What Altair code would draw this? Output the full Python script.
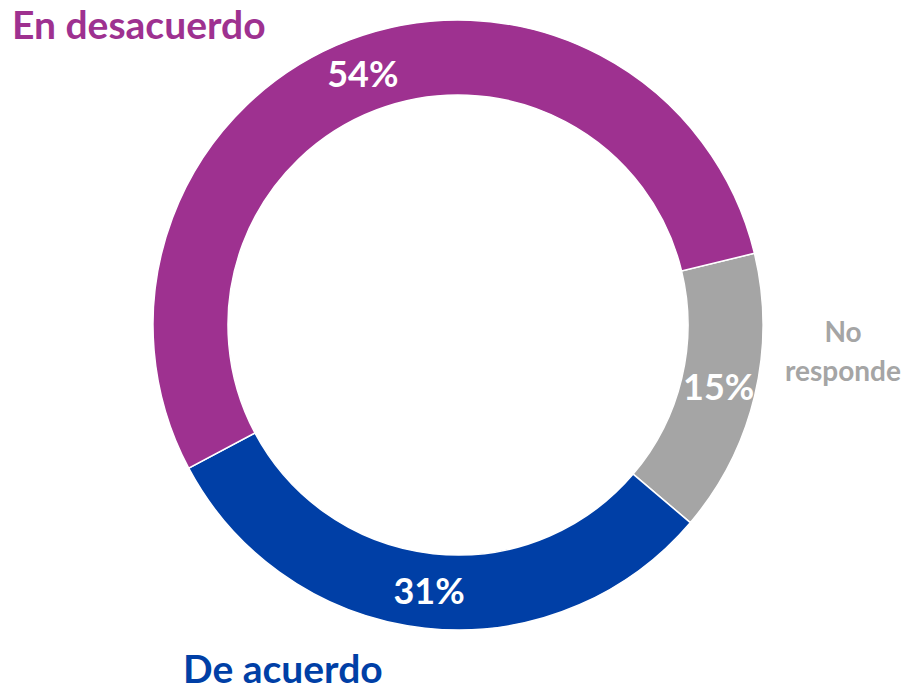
import math
import altair as alt
import pandas as pd

categories = ["No responde", "De acuerdo", "En desacuerdo"]
values = [15, 31, 54]
labels = ["15%", "31%", "54%"]
colors = ["#A5A5A5", "#003FA6", "#9E3190"]

df = pd.DataFrame({"cat": categories, "value": values, "label": labels,
                   "order": list(range(len(categories)))})

start = math.radians(76.4)
theta_scale = alt.Scale(range=[start, start + 2 * math.pi])
color = alt.Color("cat:N", scale=alt.Scale(domain=categories, range=colors), legend=None)

base = alt.Chart(df).encode(
    theta=alt.Theta("value:Q", stack=True, scale=theta_scale),
    order=alt.Order("order:Q"),
)

arcs = base.mark_arc(outerRadius=305, innerRadius=230, stroke="white", strokeWidth=1.5).encode(
    color=color, x=alt.value(450), y=alt.value(317)
)

pct = base.mark_text(radius=268, font="Lato", fontWeight="bold", fontSize=36,
                     color="white", dy=2).encode(text="label:N", x=alt.value(450), y=alt.value(317))

font = "Lato"
t1 = alt.Chart(pd.DataFrame({"t": ["En desacuerdo"]})).mark_text(
    font=font, fontWeight="bold", fontSize=39, color="#9E3190", align="left", baseline="alphabetic"
).encode(text="t:N", x=alt.value(4), y=alt.value(31))
t2 = alt.Chart(pd.DataFrame({"t": ["De acuerdo"]})).mark_text(
    font=font, fontWeight="bold", fontSize=39, color="#003FA6", align="left", baseline="alphabetic"
).encode(text="t:N", x=alt.value(175), y=alt.value(675))
t3 = alt.Chart(pd.DataFrame({"t": [["No", "responde"]]})).mark_text(
    font=font, fontWeight="bold", fontSize=28, color="#A5A5A5", align="center", baseline="alphabetic",
    lineHeight=39
).encode(text="t", x=alt.value(835), y=alt.value(334))

chart = alt.layer(arcs, pct, t1, t2, t3).properties(
    width=894, height=678, padding=0, autosize=alt.AutoSizeParams(type="none")
).configure_view(stroke=None)

chart.save("out.html", embed_options={"renderer": "svg", "actions": False})
